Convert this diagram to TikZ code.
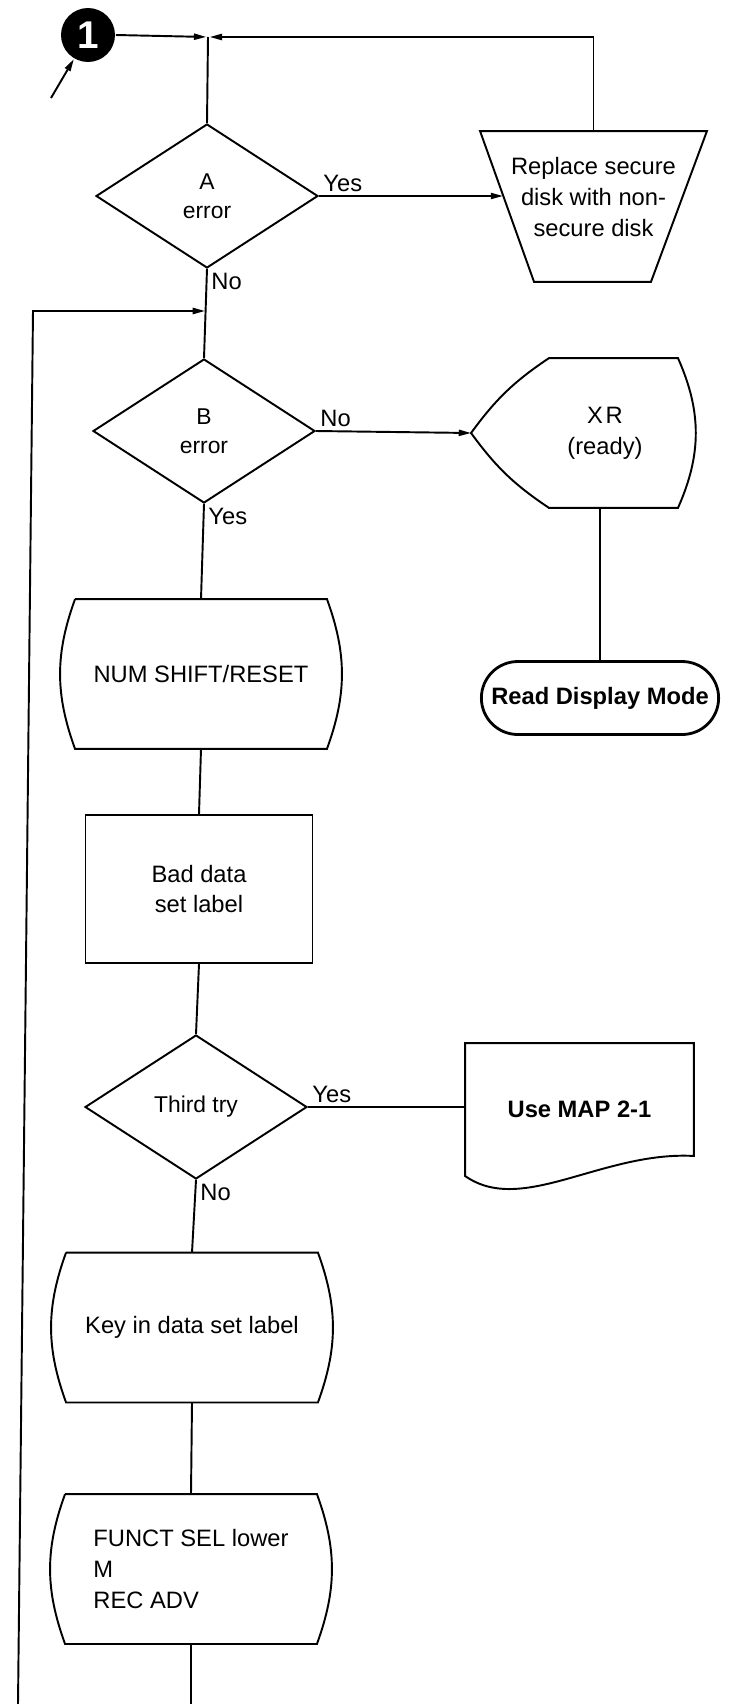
\documentclass[tikz,border=0pt]{standalone}
\usepackage{fontspec}
\setmainfont{Liberation Sans}
\usetikzlibrary{positioning, arrows.meta, shapes, calc}
\tikzset{
  dec/.style={
    draw, diamond,
    minimum width=4.44cm, minimum height=2.88cm,
    inner sep=0pt, align=center,
    font=\fontsize{13}{16.5}\selectfont
  },
  proc/.style={
    draw, rectangle,
    minimum width=4.54cm, minimum height=2.96cm,
    align=center
  },
  barrel/.style={
    rectangle, inner sep=0pt,
    minimum width=5.00cm, minimum height=2.96cm
  },
  trap/.style={
    rectangle, inner sep=0pt, align=center,
    minimum width=4.50cm, minimum height=2.98cm
  },
  disp/.style={
    rectangle, inner sep=0pt, align=center,
    minimum width=2.88cm, minimum height=2.96cm
  },
  docu/.style={
    rectangle, inner sep=0pt,
    minimum width=4.54cm, minimum height=2.62cm,
    font=\fontsize{13.5}{16}\selectfont\bfseries
  },
  term/.style={
    draw, rounded rectangle, line width=1.6pt,
    minimum width=4.98cm, minimum height=1.46cm,
    font=\fontsize{13.5}{16}\selectfont\bfseries
  },
  conn/.style={
    circle, fill=black, text=white,
    minimum size=1.08cm, inner sep=0pt,
    font=\fontsize{22}{22}\selectfont\bfseries
  },
  lbl/.style={inner sep=2pt},
  harr/.style={-{Triangle[length=7pt, width=3.5pt]}},
}
\begin{document}
\begin{tikzpicture}[x=0.02cm, y=-0.02cm, line width=1.1pt,
    font=\fontsize{13.5}{17.5}\selectfont]
  \useasboundingbox (0,0) rectangle (731,1704);
  \fill[white] (0,0) rectangle (731,1704);

  \node[conn]   (c1)   at (88,35)       {1};
  \node[dec]    (dA)   at (207,196)     {A\\error};
  \node[trap]   (rep)  at (593.5,197)   {Replace secure\\disk with non-\\secure disk};
  \node[dec]    (dB)   at (204,431)     {B\\error};
  \node[disp]   (xr)   at (605,433)     {X\kern1.5pt R\\(ready)};
  \node[term]   (rdm)  at (600,698)     {Read Display Mode};
  \node[barrel] (num)  at (201,674)     {NUM SHIFT/RESET};
  \node[proc]   (bad)  at (199,889)     {Bad data\\set label};
  \node[dec]    (dC)   at (196,1107)    {Third try};
  \node[docu]   (map)  at (579.5,1109.5) {Use MAP 2-1};
  \node[barrel] (key)  at (192,1327.5)  {Key in data set label};
  \node[barrel, align=left] (fsel) at (191,1569) {FUNCT SEL lower\\M\\REC ADV};

  \coordinate (inp)    at (51,98);
  \coordinate (jt)     at (208,37);
  \coordinate (jb)     at (205,311);
  \coordinate (lt)     at (33,311);
  \coordinate (lb)     at (18,1704);
  \coordinate (reptop) at ($(rep.north)+(0,9.5)$);
  \coordinate (repin)  at ($(rep.west)+(23,0)$);
  \coordinate (xrtip)  at ($(xr.west)+(-61,0)$);

  \draw ($(rep.north west)+(0,9.5)$) -- ($(rep.north east)+(0,9.5)$)
    -- ($(rep.south east)+(-56,9.5)$) -- ($(rep.south west)+(54,9.5)$) -- cycle;
  \draw ($(xr.north west)+(17,0)$) to[bend right=10] (xrtip)
    to[bend right=10] ($(xr.south west)+(17,0)$)
    -- (xr.south east) to[bend right=24] (xr.north east) -- cycle;
  \foreach \b in {num, key, fsel}{
    \draw (\b.north west) -- (\b.north east) to[bend left=20] (\b.south east)
      -- (\b.south west) to[bend left=20] (\b.north west);
  }
  \draw (map.north west) -- (map.north east) -- ($(map.south east)+(0,-20)$)
    .. controls ($(map.south east)+(-92,-25)$) and ($(map.south east)+(-172,40)$)
    .. (map.south west) -- cycle;

  \draw[harr] (inp) -- (c1);
  \draw[harr, shorten >=1pt] (c1.east) -- (jt);
  \draw[harr, shorten >=1pt] (reptop) |- (jt);
  \draw (jt) -- (dA.north);
  \draw[harr] (dA.east) -- node[lbl, above right, pos=0] {Yes} (dA.east -| repin);
  \draw (dA.south) -- node[lbl, below right, pos=0] {No} (dB.north);
  \draw[harr] (lb) -- (lt) -- (jb);
  \draw[harr] (dB.east) -- node[lbl, above right, pos=0] {No} (xrtip);
  \draw[line width=1.6pt] (rdm.north) -- (rdm.north |- xr.south);
  \draw (dB.south) -- node[lbl, below right, pos=0] {Yes} (num.north);
  \draw (num.south) -- (bad.north);
  \draw (bad.south) -- (dC.north);
  \draw (dC.east) -- node[lbl, above right, pos=0] {Yes} (dC.east -| map.west);
  \draw (dC.south) -- node[lbl, below right, pos=0] {No} (key.north);
  \draw (key.south) -- (fsel.north);
  \draw (fsel.south) -- (fsel.south |- lb);
\end{tikzpicture}
\end{document}
